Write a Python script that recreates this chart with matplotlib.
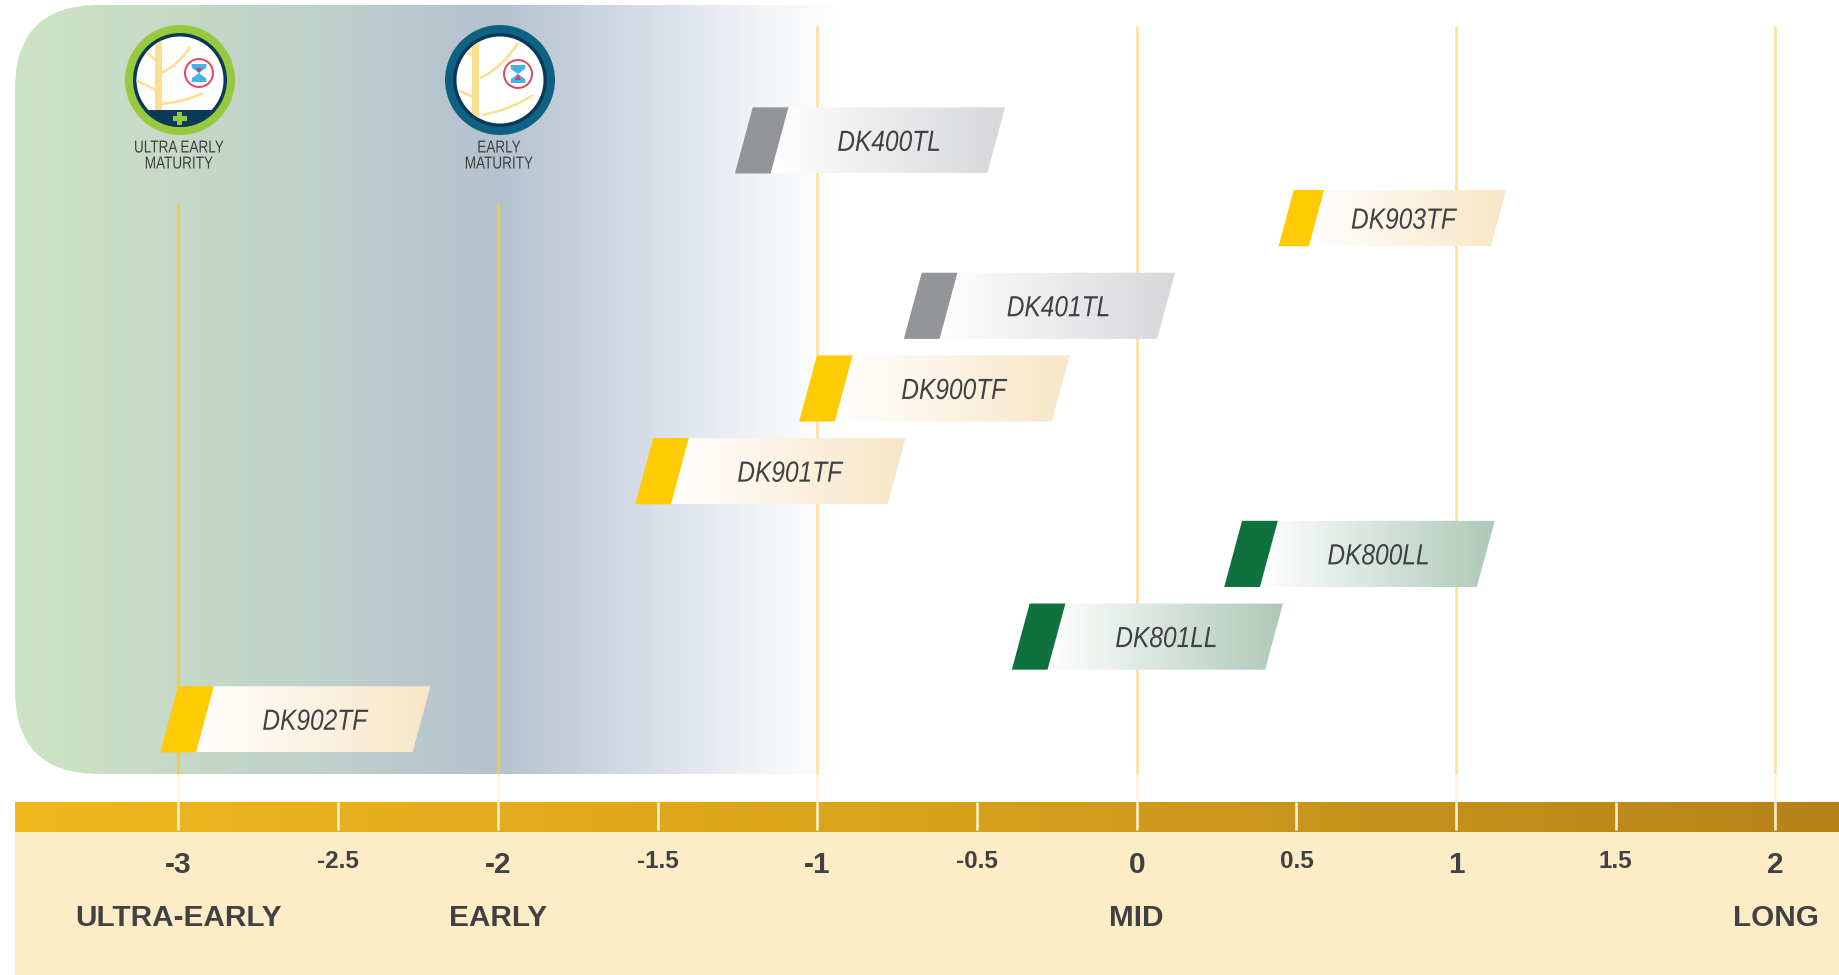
import numpy as np
import matplotlib
matplotlib.use("Agg")
import matplotlib.pyplot as plt
from matplotlib.colors import LinearSegmentedColormap
from matplotlib.patches import Circle, FancyBboxPatch, PathPatch, Polygon, Rectangle
from matplotlib.path import Path
from matplotlib.patheffects import AbstractPathEffect
from matplotlib.transforms import Affine2D, blended_transform_factory

# Maturity ranges
products = ["DK400TL", "DK903TF", "DK401TL", "DK900TF", "DK901TF", "DK800LL", "DK801LL", "DK902TF"]
range_start = [-1.258, 0.444, -0.729, -1.057, -1.570, 0.274, -0.391, -3.057]
range_end = [-0.468, 1.109, 0.064, -0.266, -0.780, 1.065, 0.402, -2.267]
rows = [0, 0.94, 2, 3, 4, 5, 6, 7]
slim_products = ["DK903TF"]

major_ticks = [-3, -2, -1, 0, 1, 2]
minor_ticks = [-2.5, -1.5, -0.5, 0.5, 1.5]
group_names = ["ULTRA-EARLY", "EARLY", "MID", "LONG"]
group_ticks = [-3, -2, 0, 2]

W, H = 1839, 975
UNIT = 319.4
ROW = 82.7
FONT = "Liberation Sans"
TEXT = "#414042"

# colours by the last two letters of the product name
bar_colors = {
    "TL": ("#939598", "#d6d7d9"),
    "TF": ("#ffcb05", "#f8e6c6"),
    "LL": ("#0f723c", "#aec8b8"),
}


class Narrow(AbstractPathEffect):
    # no narrow font is installed, so squeeze the glyphs about their centre
    def __init__(self, factor):
        super().__init__()
        self.factor = factor

    def draw_path(self, renderer, gc, tpath, affine, rgbFace=None):
        width = tpath.get_extents().x1
        squeeze = Affine2D().scale(self.factor, 1).translate(width * (1 - self.factor) / 2, 0)
        renderer.draw_path(gc, tpath, squeeze + affine, rgbFace)


fig = plt.figure(figsize=(W / 100, H / 100), dpi=100)

# pixel axes for the backgrounds and badges
bg = fig.add_axes([0, 0, 1, 1], zorder=0)
bg.set_xlim(0, W)
bg.set_ylim(H, 0)
bg.axis("off")

# data axes, x is maturity and y is the product row
ax = fig.add_axes([0, 0, 1, 1], zorder=1)
ax.patch.set_alpha(0)
ax.axis("off")
xlim = (-3 - 178.5 / UNIT, -3 + (W - 178.5) / UNIT)
ylim = ((H - 140.4) / ROW, -140.4 / ROW)

to_px = blended_transform_factory(ax.transData, bg.transData)

# green to blue panel behind the early varieties
panel_cmap = LinearSegmentedColormap.from_list("panel", [
    (0.0, "#cde4c3"), (0.2, "#c6d9c7"), (0.35, "#c0d2cb"), (0.585, "#b4c2cf"),
    (0.76, "#d6dce7"), (0.9, "#f1f3f6"), (1.0, "#ffffff")])
panel = bg.imshow(np.linspace(0, 1, 512).reshape(1, -1), cmap=panel_cmap, aspect="auto",
                  extent=(15, 840, 774, 5), zorder=1)
clip = FancyBboxPatch((15, 5), 1000, 769, boxstyle="round,pad=0,rounding_size=84",
                      transform=bg.transData, fc="none", ec="none")
bg.add_patch(clip)
panel.set_clip_path(clip)

# scale band and the cream strip under it
band_cmap = LinearSegmentedColormap.from_list("band", ["#f0b71f", "#d8a21c", "#b5821a"])
bg.imshow(np.linspace(0, 1, 512).reshape(1, -1), cmap=band_cmap, aspect="auto",
          extent=(15, W, 832, 802), zorder=1)
bg.add_patch(Rectangle((15, 832), W - 15, H - 832, fc="#fdedc7", ec="none", zorder=1))
bg.set_xlim(0, W)
bg.set_ylim(H, 0)


def badge(cx, cy, ring, stem_x, branches, clock, sand_dy, plus):
    bg.add_patch(Circle((cx, cy), 55, fc=ring, ec="none", zorder=2))
    bg.add_patch(Circle((cx, cy), 47, fc="#0b3a58", ec="none", zorder=3))
    face = Circle((cx, cy), 43.5, fc="white", ec="none", zorder=4)
    bg.add_patch(face)
    stem = Rectangle((cx + stem_x, cy - 44), 7, 88, fc="#f8e08e", ec="none", zorder=5)
    bg.add_patch(stem)
    stem.set_clip_path(face)
    for p0, p1, p2 in branches:
        pts = [(cx + p[0], cy + p[1]) for p in (p0, p1, p2)]
        twig = PathPatch(Path(pts, [Path.MOVETO, Path.CURVE3, Path.CURVE3]), fc="none",
                         ec="#f8e08e", lw=1.8, zorder=5)
        bg.add_patch(twig)
        twig.set_clip_path(face)
    if plus:
        seg = Rectangle((cx - 50, cy + 30), 100, 30, fc="#0b3a58", ec="none", zorder=6)
        bg.add_patch(seg)
        seg.set_clip_path(Circle((cx, cy), 47, transform=bg.transData))
        bg.add_patch(Rectangle((cx - 7, cy + 36), 14, 5, fc="#96c93d", ec="none", zorder=7))
        bg.add_patch(Rectangle((cx - 2.5, cy + 32), 5, 13, fc="#96c93d", ec="none", zorder=7))
    # hourglass
    hx, hy = cx + clock[0], cy + clock[1]
    bg.add_patch(Circle((hx, hy), 14, fc="white", ec="#e8435f", lw=1.4, zorder=7))
    bg.add_patch(Polygon([(hx - 7.5, hy - 9), (hx + 7.5, hy - 9), (hx + 7, hy - 5), (hx, hy), (hx - 7, hy - 5)],
                         fc="#42b4e6", ec="none", zorder=8))
    bg.add_patch(Polygon([(hx - 7.5, hy + 9), (hx + 7.5, hy + 9), (hx + 7, hy + 5), (hx, hy), (hx - 7, hy + 5)],
                         fc="#42b4e6", ec="none", zorder=8))
    bg.add_patch(Polygon([(hx - 3, hy + sand_dy), (hx + 3, hy + sand_dy), (hx, hy)],
                         fc="#d23d6a", ec="none", zorder=9))


badge(180, 80, "#96c93d", -25,
      [((-19, -7), (-2, -14), (10, -33)), ((-20, 24), (5, 22), (23, 13)),
       ((-21, 12), (-33, 5), (-45, 0)), ((-25, -20), (-29, -25), (-34, -28))],
      (19, -7), -5, True)
badge(500, 80, "#0f6184", -28,
      [((-20, -2), (2, -12), (18, -37)), ((-18, 35), (10, 30), (33, 15)),
       ((-28, 17), (-36, 12), (-44, 10)), ((-28, -25), (-31, -27), (-36, -29))],
      (18, -6), 6, False)
for cx, lines in [(179, ["ULTRA EARLY", "MATURITY"]), (499, ["EARLY", "MATURITY"])]:
    for ly, line in zip([148, 164], lines):
        bg.text(cx, ly, line, ha="center", va="center", fontsize=12.5, family=FONT, color=TEXT,
                zorder=5, path_effects=[Narrow(0.78)])

# gridlines
for t in major_ticks:
    top = 203 if t < -1 else 26
    ax.plot([t, t], [top, 774], transform=to_px, lw=1.8,
            color="#f6c944" if t < -1 else "#fddf98", zorder=1, solid_capstyle="butt")
    ax.plot([t, t], [774, 802], transform=to_px, lw=1.8, color="#fef3d9", zorder=1, solid_capstyle="butt")
for t in major_ticks + minor_ticks:
    ax.plot([t, t], [802, 830], transform=to_px, lw=1.8, color="#fdf3dc", zorder=1, solid_capstyle="butt")

# product bars
for name, start, end, row in zip(products, range_start, range_end, rows):
    cap_color, end_color = bar_colors[name[-2:]]
    h = 0.68 if name in slim_products else 0.8
    top, bottom = row - h / 2, row + h / 2
    skew = h * 0.27 * ROW / UNIT
    cap = h * 0.54 * ROW / UNIT

    shape = Polygon([(start + cap * 0.9, bottom), (start + skew + cap * 0.9, top), (end + skew, top), (end, bottom)],
                    transform=ax.transData, fc="none", ec="none")
    ax.add_patch(shape)
    cmap = LinearSegmentedColormap.from_list(name, ["#ffffff", end_color])
    img = ax.imshow(np.linspace(0, 1, 256).reshape(1, -1), cmap=cmap, aspect="auto",
                    extent=(start + cap, end + skew, bottom, top), zorder=3)
    img.set_clip_path(shape)
    ax.add_patch(Polygon([(start, bottom), (start + skew, top), (start + skew + cap, top), (start + cap, bottom)],
                         fc=cap_color, ec="none", zorder=4))
    label_shift = 0.088 - (0.8 - h) * 0.25
    ax.text((start + end) / 2 + label_shift, row + 0.03, name, ha="center", va="center", fontsize=21,
            style="italic", family=FONT, color=TEXT, zorder=5, path_effects=[Narrow(0.84)])

ax.set_xlim(*xlim)
ax.set_ylim(*ylim)

# scale labels
for t in major_ticks:
    ax.text(t, 865, f"{t}", transform=to_px, ha="center", va="center", fontsize=21.5,
            fontweight="bold", family=FONT, color=TEXT, zorder=5)
for t in minor_ticks:
    ax.text(t, 862, f"{t}", transform=to_px, ha="center", va="center", fontsize=17.5,
            fontweight="bold", family=FONT, color=TEXT, zorder=5)
for t, name in zip(group_ticks, group_names):
    ax.text(t, 918, name, transform=to_px, ha="center", va="center", fontsize=21.4,
            fontweight="bold", family=FONT, color=TEXT, zorder=5)

fig.savefig("out.png", dpi=100)
